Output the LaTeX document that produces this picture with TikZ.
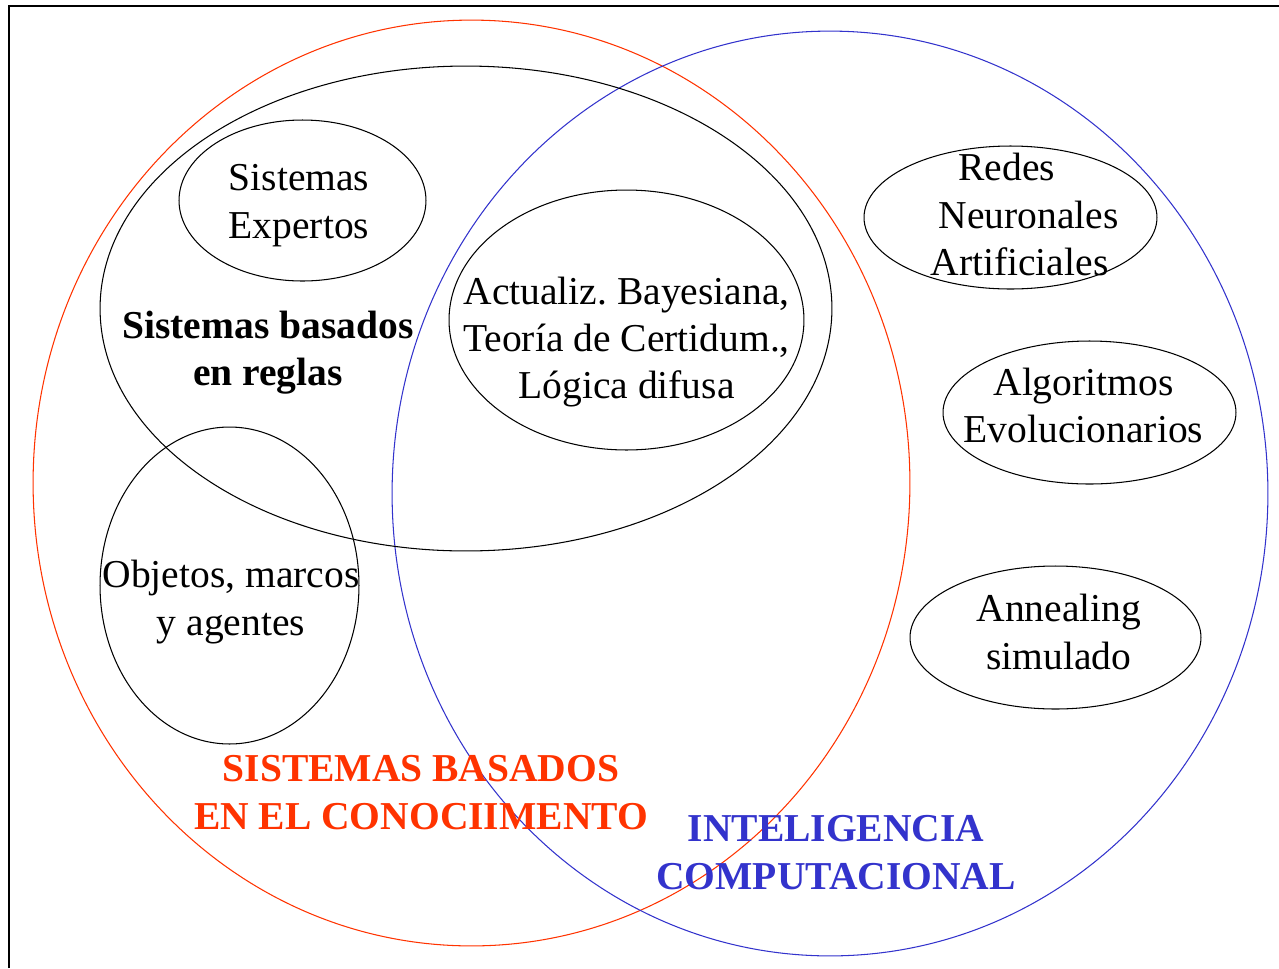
\documentclass[tikz,border=0pt]{standalone}
\usepackage{fontspec}
\setmainfont{Liberation Serif}
\usetikzlibrary{shapes.geometric}
\definecolor{kbsred}{HTML}{FF3300}
\definecolor{ciblue}{HTML}{3333CC}
\frenchspacing

\begin{document}
\begin{tikzpicture}[x=0.02cm,y=-0.02cm,line width=0.6pt,
  oval/.style={draw,ellipse,inner sep=0pt},
  lbl/.style={align=center,inner sep=0pt,font=\fontsize{22.5}{27}\selectfont},
  bigbl/.style={lbl,font=\fontsize{22.5}{27}\selectfont\bfseries}]
  \useasboundingbox (0,0) rectangle (1279,968);

  % Frame
  \draw (9,968) -- (9,6) -- (1279,6);

  % Knowledge based systems
  \node[oval,kbsred,minimum width=17.54cm,minimum height=18.52cm] (kbs) at (471.5,483) {};
  % Computational intelligence
  \node[oval,ciblue,minimum width=17.52cm,minimum height=18.5cm] (ci) at (830,493.5) {};

  % Rule based systems
  \node[oval,minimum width=14.64cm,minimum height=9.7cm] (reglas) at (466,308.5) {};
  \node[oval,minimum width=4.94cm,minimum height=3.22cm] (expertos) at (302.5,200.5) {};
  \node[oval,minimum width=7.1cm,minimum height=5.2cm] (bayes) at (626.5,320) {};
  \node[oval,minimum width=5.18cm,minimum height=6.34cm] (objetos) at (229.5,585.5) {};

  % Right side
  \node[oval,minimum width=5.86cm,minimum height=2.86cm] (redes) at (1010.5,217.5) {};
  \node[oval,minimum width=5.86cm,minimum height=2.86cm] (evol) at (1089.5,412.5) {};
  \node[oval,minimum width=5.82cm,minimum height=2.86cm] (anneal) at (1055.5,637.5) {};

  % Labels
  \node[lbl] (tExpertos) at (299,205.5) {Sistemas\\Expertos};
  \node[bigbl] (tReglas) at (268,352.5) {Sistemas basados\\en reglas};
  \node[lbl] (tBayes) at (626.5,342) {Actualiz. Bayesiana,\\Teoría de Certidum.,\\Lógica difusa};
  \node[lbl] (tObjetos) at (231,602) {Objetos, marcos\\y agentes};
  \node[lbl,align=left,anchor=west] (tRedes) at (930,214.5)
    {\hspace*{0.56cm}Redes\\\hspace*{0.16cm}Neuronales\\Artificiales};
  \node[lbl] (tEvol) at (1083.5,405.5) {Algoritmos\\Evolucionarios};
  \node[lbl] (tAnneal) at (1059,632) {Annealing\\simulado};

  \node[bigbl,kbsred] (tKbs) at (421,792.5) {SISTEMAS BASADOS\\EN EL CONOCIIMENTO};
  \node[bigbl,ciblue] (tCi) at (836,852.5) {INTELIGENCIA\\COMPUTACIONAL};
\end{tikzpicture}
\end{document}
